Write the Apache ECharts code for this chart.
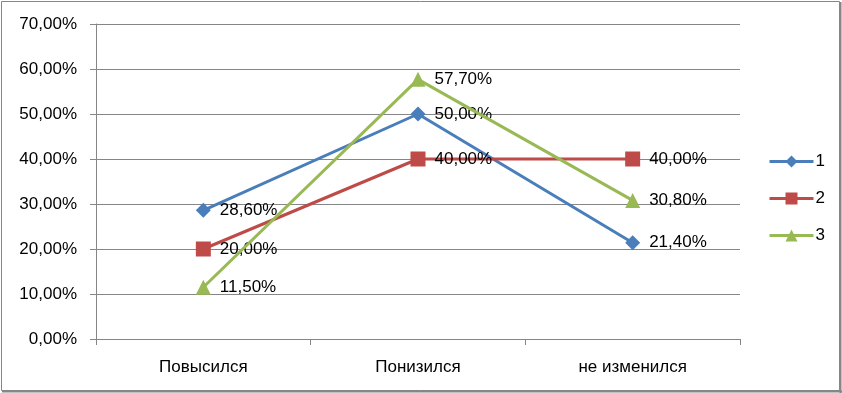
<!DOCTYPE html>
<html>
<head>
<meta charset="utf-8">
<script src="https://cdn.jsdelivr.net/npm/echarts@6/dist/echarts.min.js"></script>
<style>
html,body{margin:0;padding:0;background:#fff;}
#chart{width:842px;height:393px;}
</style>
</head>
<body>
<div id="chart"></div>
<script>
var categories = ['Повысился', 'Понизился', 'не изменился'];
var seriesNames = ['1', '2', '3'];
var series1 = [28.6, 50.0, 21.4];
var series2 = [20.0, 40.0, 40.0];
var series3 = [11.5, 57.7, 30.8];
var yTicks = [0, 10, 20, 30, 40, 50, 60, 70];

var colors = ['#4A7EBB', '#BE4B48', '#98B954'];
var symbols = ['diamond', 'rect', 'triangle'];
var symbolSizes = [15, 15, 15];
var font = '"Liberation Sans", "Open Sans", sans-serif';
var fs = 17;

function fmt(v) { return v.toFixed(2).replace('.', ',') + '%'; }

var chart = echarts.init(document.getElementById('chart'), null, {renderer: 'canvas'});
var dataSets = [series1, series2, series3];
var series = dataSets.map(function (d, i) {
  return {
    name: seriesNames[i],
    type: 'line',
    data: d,
    symbol: symbols[i],
    symbolSize: symbolSizes[i],
    lineStyle: {width: 3, color: colors[i]},
    itemStyle: {color: colors[i]},
    label: {
      show: true,
      position: 'right',
      distance: 9,
      formatter: function (p) { return fmt(p.value); },
      color: '#000',
      fontSize: fs,
      fontFamily: font
    },
    emphasis: {disabled: true},
    animation: false,
    z: 2 + i
  };
});

chart.setOption({
  animation: false,
  backgroundColor: '#fff',
  grid: {left: 96, right: 102, top: 24, bottom: 54, containLabel: false},
  legend: {
    orient: 'vertical',
    left: 763,
    top: 148,
    itemWidth: 44,
    itemHeight: 15,
    itemGap: 20,
    lineStyle: {width: 3},
    textStyle: {fontSize: fs, fontFamily: font, color: '#000', padding: [0, 0, 0, -3]},
    data: seriesNames
  },
  xAxis: {
    type: 'category',
    data: categories,
    boundaryGap: true,
    axisLine: {lineStyle: {color: '#868686', width: 1}},
    axisTick: {show: true, alignWithLabel: false, length: 6, lineStyle: {color: '#868686'}},
    axisLabel: {fontSize: fs, fontFamily: font, color: '#000', margin: 20},
    splitLine: {show: false}
  },
  yAxis: {
    type: 'value',
    min: 0,
    max: 70,
    interval: 10,
    axisLine: {show: true, lineStyle: {color: '#868686', width: 1}},
    axisTick: {show: true, length: 6, lineStyle: {color: '#868686'}},
    axisLabel: {
      fontSize: fs, fontFamily: font, color: '#000', margin: 19,
      formatter: function (v) { return yTicks.indexOf(v) >= 0 ? fmt(v) : ''; }
    },
    splitLine: {show: true, lineStyle: {color: '#868686', width: 1}}
  },
  series: series,
  graphic: [
    {type: 'rect', shape: {x: 1.5, y: 1.5, width: 838, height: 389}, style: {fill: 'none', stroke: '#868686', lineWidth: 1}, z: 100, silent: true},
    {type: 'line', shape: {x1: 840.5, y1: 2, x2: 840.5, y2: 393}, style: {stroke: '#868686', lineWidth: 2}, z: 100, silent: true},
    {type: 'line', shape: {x1: 2, y1: 391.5, x2: 842, y2: 391.5}, style: {stroke: '#868686', lineWidth: 2}, z: 100, silent: true}
  ]
});
</script>
</body>
</html>
